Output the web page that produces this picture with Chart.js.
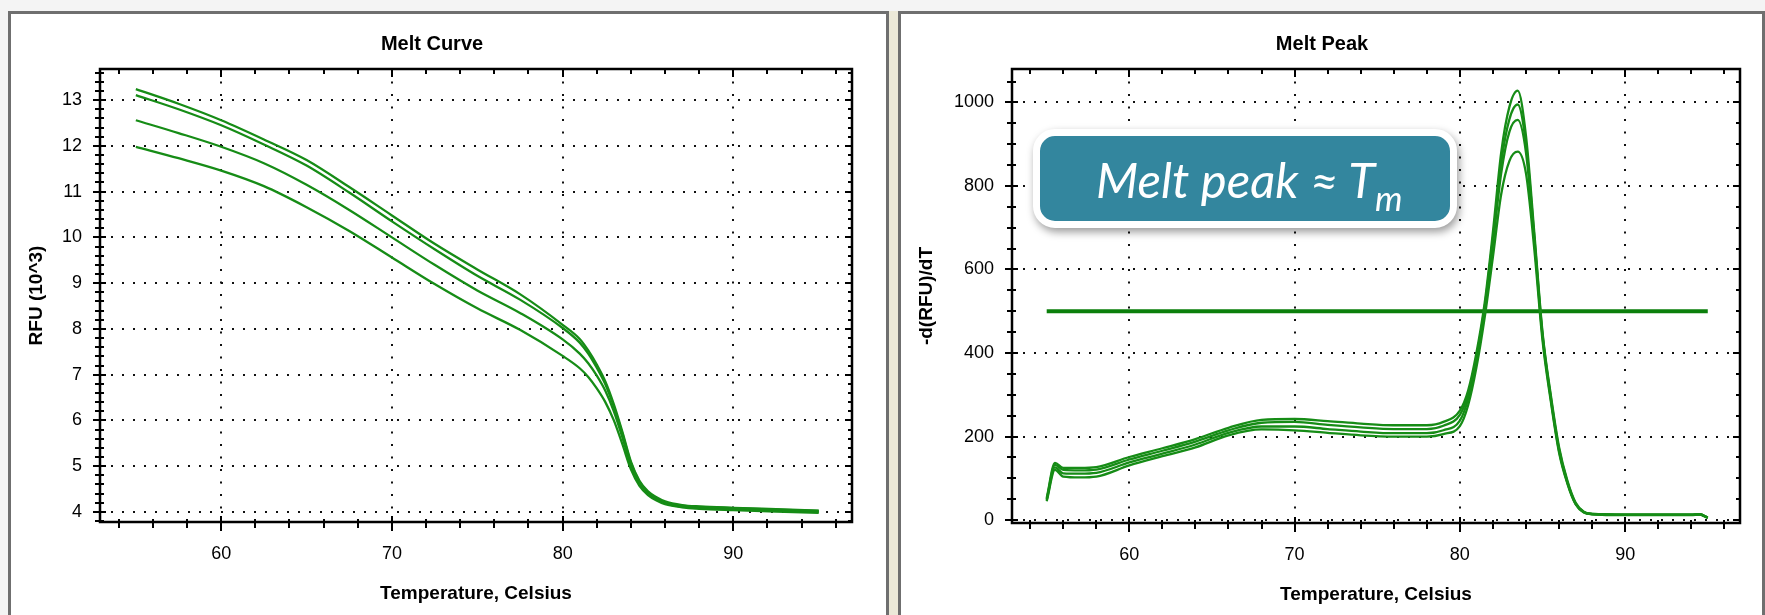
<!DOCTYPE html>
<html>
<head>
<meta charset="utf-8">
<title>Melt Curve / Melt Peak</title>
<script src="https://cdn.jsdelivr.net/npm/chart.js@4.4.1/dist/chart.umd.min.js"></script>
<style>
  body { margin:0; width:1765px; height:615px; overflow:hidden; background:#f4f4f4; position:relative; }
  .panel { position:absolute; top:11px; height:620px; box-sizing:border-box; background:#fff; border:3px solid #6f6f6f; }
  #leftPanel { left:8px; width:881px; }
  #rightPanel { left:898px; width:867px; }
  #gap { position:absolute; left:889px; top:11px; width:9px; height:604px; background:#ece9d8; }
  canvas { position:absolute; }
  #meltCurve { left:12px; top:16px; }
  #meltPeak { left:904px; top:16px; }
  #callout {
    position:absolute; left:1033px; top:129px; width:424px; height:99px; box-sizing:border-box;
    background:#33869e; border:7px solid #fff; border-radius:22px;
    box-shadow:2px 4px 8px rgba(0,0,0,0.4);
    font-family:Lato, "Open Sans", sans-serif; font-style:italic; color:#fff;
  }
  #callout span { position:absolute; left:56px; top:19px; font-size:49px; line-height:49px; white-space:nowrap; }
  #callout sub { font-size:35px; vertical-align:-13px; line-height:0; }
</style>
</head>
<body>
<div class="panel" id="leftPanel"></div>
<div id="gap"></div>
<div class="panel" id="rightPanel"></div>
<canvas id="meltCurve" width="872" height="599"></canvas>
<canvas id="meltPeak" width="856" height="599"></canvas>
<div id="callout"><span>Melt peak ≈ T<sub>m</sub></span></div>

<script>
// melt curve (RFU x10^3), 4 wells
const curveTemps = [55, 57.5, 60, 62.5, 65, 67.5, 70, 72.5, 75, 77.5, 80, 81, 81.5, 82, 82.5, 83, 83.5, 84, 84.5, 85, 85.5, 86, 87, 88, 90, 92.5, 95];
const curveA = [13.24, 12.92, 12.56, 12.14, 11.69, 11.10, 10.48, 9.86, 9.30, 8.76, 8.09, 7.78, 7.53, 7.22, 6.85, 6.35, 5.75, 5.10, 4.68, 4.45, 4.32, 4.23, 4.15, 4.12, 4.09, 4.06, 4.03];
const curveB = [13.11, 12.80, 12.45, 12.03, 11.57, 10.98, 10.35, 9.74, 9.16, 8.64, 8.02, 7.70, 7.46, 7.15, 6.79, 6.30, 5.71, 5.07, 4.66, 4.43, 4.30, 4.21, 4.13, 4.11, 4.08, 4.05, 4.02];
const curveC = [12.56, 12.28, 11.98, 11.62, 11.15, 10.60, 10.00, 9.40, 8.84, 8.35, 7.77, 7.46, 7.25, 6.98, 6.65, 6.20, 5.63, 5.02, 4.63, 4.41, 4.28, 4.19, 4.11, 4.08, 4.06, 4.03, 4.00];
const curveD = [11.98, 11.73, 11.46, 11.12, 10.66, 10.14, 9.56, 8.98, 8.45, 7.98, 7.41, 7.14, 6.95, 6.70, 6.40, 6.00, 5.48, 4.93, 4.57, 4.37, 4.25, 4.17, 4.10, 4.07, 4.04, 4.01, 3.98];

// melt peak -d(RFU)/dT, same 4 wells
const peakTemps = [55, 55.5, 56, 57, 58, 60, 62, 64, 66, 68, 70, 72, 74, 76, 78, 79, 80, 80.5, 81, 81.5, 82, 82.5, 83, 83.5, 84, 84.5, 85, 85.5, 86, 86.5, 87, 87.5, 88, 90, 92, 94, 94.5, 95];
const peakA = [53, 137, 125, 125, 127, 151, 172, 194, 221, 240, 242, 237, 231, 227, 227, 235, 262, 310, 400, 520, 690, 880, 990, 1028, 920, 690, 450, 300, 175, 95, 42, 20, 15, 13, 13, 13, 14, 6];
const peakB = [50, 132, 120, 119, 121, 145, 166, 188, 215, 233, 235, 228, 222, 218, 218, 226, 252, 300, 390, 510, 675, 855, 960, 995, 900, 680, 445, 295, 170, 92, 40, 19, 15, 13, 13, 13, 14, 6];
const peakC = [48, 126, 112, 111, 113, 138, 159, 181, 209, 224, 224, 218, 212, 208, 208, 215, 238, 290, 380, 500, 660, 830, 930, 958, 880, 670, 440, 290, 166, 90, 39, 19, 14, 13, 13, 13, 14, 6];
const peakD = [45, 120, 104, 102, 104, 131, 153, 174, 203, 217, 215, 209, 203, 200, 200, 206, 225, 275, 365, 485, 630, 780, 860, 882, 830, 650, 430, 285, 162, 88, 38, 18, 14, 12, 12, 12, 13, 5];

// threshold line on the peak chart
const thresholdTemps = [55, 95];
const thresholdValue = 500;

const FONT = "'Liberation Sans', Arial, sans-serif";
const GREEN = '#168c16';

const isMultiple = (v, step) => Math.abs(v / step - Math.round(v / step)) < 1e-6;

// builds {x,y} points from a temp array + value array
function toPoints(temps, values) {
  return temps.map((t, i) => ({ x: t, y: values[i] }));
}

function curveSet(temps, values) {
  return {
    data: toPoints(temps, values),
    borderColor: GREEN,
    borderWidth: 2.3,
    pointRadius: 0,
    fill: false,
    cubicInterpolationMode: 'monotone'
  };
}

// frame round the plot + tick marks (in and out) taken from the scale ticks
const axisBox = {
  id: 'axisBox',
  afterDraw(chart, args, opts) {
    const { ctx, chartArea: a, scales: { x, y } } = chart;
    ctx.save();
    ctx.strokeStyle = '#000';
    ctx.lineWidth = 2;
    ctx.beginPath();
    x.ticks.forEach(t => {
      const px = Math.round(x.getPixelForValue(t.value));
      const big = isMultiple(t.value, opts.xMajor);
      ctx.moveTo(px, a.bottom - (big ? 6 : 3));
      ctx.lineTo(px, a.bottom + (big ? 9 : 6));
      ctx.moveTo(px, a.top);
      ctx.lineTo(px, a.top + (big ? 8 : 5));
    });
    y.ticks.forEach(t => {
      const py = Math.round(y.getPixelForValue(t.value));
      const big = isMultiple(t.value, opts.yMajor);
      ctx.moveTo(a.left - (big ? 7 : 5), py);
      ctx.lineTo(a.left + (big ? 6 : 4), py);
      ctx.moveTo(a.right, py);
      ctx.lineTo(a.right - (big ? 7 : 4), py);
    });
    ctx.stroke();
    ctx.lineWidth = 2.5;
    ctx.strokeRect(a.left, a.top, a.width, a.height);
    ctx.restore();
  }
};

function xScale(height, titlePadBottom) {
  return {
    type: 'linear',
    min: 52.9,
    max: 96.95,
    afterFit: s => { s.height = height; },
    border: { display: false, dash: [2, 10.5] },
    grid: {
      drawTicks: false,
      lineWidth: 2,
      color: c => isMultiple(c.tick.value, 10) ? '#111' : 'rgba(0,0,0,0)'
    },
    ticks: {
      stepSize: 2, maxTicksLimit: 1000, includeBounds: false, autoSkip: false, maxRotation: 0,
      padding: 21, color: '#000', font: { family: FONT, size: 18 },
      callback: v => isMultiple(v, 10) ? String(Math.round(v)) : ''
    },
    title: {
      display: true, text: 'Temperature, Celsius', color: '#000',
      font: { family: FONT, size: 19, weight: 'bold' },
      padding: { top: 0, bottom: titlePadBottom }
    }
  };
}

function yScale(opts) {
  return {
    type: 'linear',
    min: opts.min,
    max: opts.max,
    afterFit: s => { s.width = opts.width; },
    border: { display: false, dash: [2, 9] },
    grid: {
      drawTicks: false,
      lineWidth: 2,
      color: c => isMultiple(c.tick.value, opts.major) ? '#111' : 'rgba(0,0,0,0)'
    },
    ticks: {
      stepSize: opts.step, maxTicksLimit: 1000, includeBounds: false, autoSkip: false,
      padding: 18, color: '#000', font: { family: FONT, size: 18 },
      callback: v => isMultiple(v, opts.major) ? String(Math.round(v)) : ''
    },
    title: {
      display: true, text: opts.title, color: '#000',
      font: { family: FONT, size: 19, weight: 'bold' },
      padding: { top: opts.titlePad, bottom: 0 }
    }
  };
}

function chartTitle(text) {
  return {
    display: true, text: text, color: '#000',
    font: { family: FONT, size: 20, weight: 'bold' },
    padding: { top: 16, bottom: 13 }
  };
}

// left: melt curve
new Chart(document.getElementById('meltCurve'), {
  type: 'line',
  data: {
    datasets: [curveA, curveB, curveC, curveD].map(v => curveSet(curveTemps, v))
  },
  options: {
    responsive: false,
    animation: false,
    layout: { padding: { left: 0, right: 32, top: 0, bottom: 0 } },
    scales: {
      x: xScale(93, 10),
      y: yScale({ min: 3.78, max: 13.68, step: 0.2, major: 1, width: 88, title: 'RFU (10^3)', titlePad: 13 })
    },
    plugins: {
      legend: { display: false },
      tooltip: { enabled: false },
      title: chartTitle('Melt Curve'),
      axisBox: { xMajor: 10, yMajor: 1 }
    }
  },
  plugins: [axisBox]
});

// right: melt peak + threshold
const peakSets = [peakA, peakB, peakC, peakD].map(v => curveSet(peakTemps, v));
peakSets.push({
  data: thresholdTemps.map(t => ({ x: t, y: thresholdValue })),
  borderColor: '#0b7f0b',
  borderWidth: 4,
  pointRadius: 0,
  fill: false
});

new Chart(document.getElementById('meltPeak'), {
  type: 'line',
  data: { datasets: peakSets },
  options: {
    responsive: false,
    animation: false,
    layout: { padding: { left: 0, right: 20, top: 0, bottom: 0 } },
    scales: {
      x: xScale(92, 9),
      y: yScale({ min: -7, max: 1080, step: 50, major: 200, width: 108, title: '-d(RFU)/dT', titlePad: 11 })
    },
    plugins: {
      legend: { display: false },
      tooltip: { enabled: false },
      title: chartTitle('Melt Peak'),
      axisBox: { xMajor: 10, yMajor: 200 }
    }
  },
  plugins: [axisBox]
});
</script>
</body>
</html>
